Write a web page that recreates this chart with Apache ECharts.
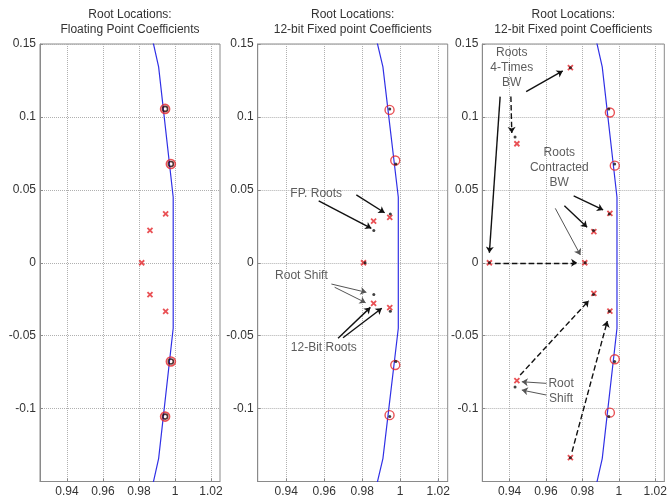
<!DOCTYPE html>
<html><head><meta charset="utf-8">
<script src="https://cdn.jsdelivr.net/npm/echarts@6/dist/echarts.min.js"></script>
<style>html,body{margin:0;padding:0;background:#fff}#c{width:672px;height:500px}</style>
</head><body><div id="c"></div>
<script>
// ---- tick labels ----
const xTicks = [0.94, 0.96, 0.98, 1, 1.02];
const titles = [
  'Root Locations:\nFloating Point Coefficients',
  'Root Locations:\n12-bit Fixed point Coefficients',
  'Root Locations:\n12-bit Fixed point Coefficients'
];
// ---- unit circle vertices (as drawn) ----
const circleX = [0.9749, 0.9909, 0.9990, 0.9990, 0.9909, 0.9749];
const circleY = [-0.2226, -0.1343, -0.0449, 0.0449, 0.1343, 0.2226];
// ---- floating point roots ----
const fpZeroX = [0.9945, 0.9977, 0.9977, 0.9945];
const fpZeroY = [0.1055, 0.0677, -0.0677, -0.1055];
const fpPoleX = [0.9948, 0.9861, 0.9815, 0.9861, 0.9948];
const fpPoleY = [0.0335, 0.0222, 0, -0.0218, -0.0333];
// ---- 12-bit fixed point roots (panel 2) ----
const fxZeroX = [0.9944, 0.9974, 0.9974, 0.9944];
const fxZeroY = [0.1048, 0.0701, -0.0701, -0.1045];
const fxPoleX = [0.9945, 0.9860, 0.9807, 0.9860, 0.9945];
const fxPoleY = [0.0311, 0.0286, 0, -0.0278, -0.0308];
// ---- panel 3 roots ----
const p3ZeroX = [0.9951, 0.9978, 0.9978, 0.9951];
const p3ZeroY = [0.1030, 0.0666, -0.0662, -0.1028];
const p3PoleX = [0.9734, 0.9440, 0.9289, 0.9440, 0.9734, 0.9813, 0.9863, 0.9951, 0.9863, 0.9951];
const p3PoleY = [0.1338, 0.0816, 0, -0.0809, -0.1337, 0, 0.0213, 0.0339, -0.0210, -0.0331];
const p3DotX = [0.9430, 0.9430, 0.9734, 0.9734, 0.9289];
const p3DotY = [0.0862, -0.0852, 0.1338, -0.1337, 0];
// ---- annotations ----
const p2Texts = [['FP. Roots', 0.9558, 0.0472], ['Root Shift', 0.9480, -0.0091], ['12-Bit Roots', 0.9598, -0.0585]];
const p2Black = [[[0.9769, 0.0465], [0.9918, 0.0343]], [[0.9571, 0.0424], [0.9848, 0.0236]],
                 [[0.9673, -0.0518], [0.9843, -0.0306]], [[0.9699, -0.0514], [0.9903, -0.0312]]];
const p2Gray = [[[0.9638, -0.0146], [0.9822, -0.0203]], [[0.9655, -0.0168], [0.9818, -0.0274]]];
const p3Texts = [['Roots\n4-Times\nBW', 0.9412, 0.1340], ['Roots\nContracted\nBW', 0.9673, 0.0652], ['Root\nShift', 0.9683, -0.0884]];
const p3Black = [[[0.9491, 0.1173], [0.9692, 0.1315]], [[0.9348, 0.1139], [0.9289, 0.0069]],
                 [[0.9752, 0.0458], [0.9914, 0.0362]], [[0.9701, 0.0391], [0.9826, 0.0243]]];
const p3Gray = [[[0.9651, 0.0373], [0.9789, 0.0053]], [[0.9602, -0.0827], [0.9467, -0.0816]],
                [[0.9602, -0.0907], [0.9467, -0.0873]]];
const p3Dashed = [[[0.9407, 0.1140], [0.9412, 0.0890]], [[0.9320, 0], [0.9771, 0]],
                  [[0.9458, -0.0770], [0.9835, -0.0260]], [[0.9743, -0.1296], [0.9937, -0.0400]]];

const zip = (a, b) => a.map((v, i) => [v, b[i]]);
const FONT = 'Arial, "Liberation Sans", sans-serif';
const RED = '#e3262b';
const TXT = '#333';

const panels = [{left: 40, width: 180}, {left: 257.7, width: 190}, {left: 482.3, width: 182}];

const grid = panels.map(p => ({left: p.left, width: p.width, top: 44, height: 437.5,
  show: true, borderColor: '#8a8a8a', borderWidth: 1, backgroundColor: '#fff'}));
const xAxis = panels.map((p, i) => ({
  type: 'value', gridIndex: i, min: 0.925, max: 1.025,
  axisLine: {show: true, onZero: false, lineStyle: {color: '#8a8a8a'}},
  axisTick: {show: true, inside: true, length: 3, customValues: xTicks, lineStyle: {color: '#8a8a8a'}},
  axisLabel: {customValues: xTicks, fontSize: 12, color: TXT, margin: 4, fontFamily: FONT},
  splitLine: {show: true, lineStyle: {type: 'dotted', color: '#b0b0b0', width: 1}}
}));
const yAxis = panels.map((p, i) => ({
  type: 'value', gridIndex: i, min: -0.15, max: 0.15, interval: 0.05,
  axisLine: {show: true, onZero: false, lineStyle: {color: '#8a8a8a'}},
  axisTick: {show: true, inside: true, length: 3, lineStyle: {color: '#8a8a8a'}},
  axisLabel: {showMinLabel: false, fontSize: 12, color: TXT, margin: 4, fontFamily: FONT},
  splitLine: {show: true, lineStyle: {type: 'dotted', color: '#b0b0b0', width: 1}}
}));

const XSYM = 'path://M0,0L10,10M10,0L0,10';
function circleLine(i) {
  return {type: 'line', xAxisIndex: i, yAxisIndex: i, data: zip(circleX, circleY), showSymbol: false,
    clip: true, lineStyle: {color: '#3030e6', width: 1.2}, z: 2};
}
function xs(i, X, Y) {
  return {type: 'scatter', xAxisIndex: i, yAxisIndex: i, data: zip(X, Y), symbol: XSYM, symbolSize: 5,
    itemStyle: {color: 'rgba(0,0,0,0)', borderColor: RED, borderWidth: 1.8}, z: 4};
}
function os(i, X, Y, size, color, bw) {
  return {type: 'scatter', xAxisIndex: i, yAxisIndex: i, data: zip(X, Y), symbol: 'circle', symbolSize: size,
    itemStyle: {color: 'rgba(0,0,0,0)', borderColor: color, borderWidth: bw}, z: 4};
}
function dots(i, X, Y) {
  return {type: 'scatter', xAxisIndex: i, yAxisIndex: i, data: zip(X, Y), symbol: 'circle', symbolSize: 3,
    itemStyle: {color: '#111'}, z: 6};
}
function texts(i, arr) {
  return {type: 'scatter', xAxisIndex: i, yAxisIndex: i, symbolSize: 1, itemStyle: {color: 'rgba(0,0,0,0)'},
    data: arr.map(t => ({name: t[0], value: [t[1], t[2]]})),
    label: {show: true, formatter: '{b}', position: 'inside', align: 'center', verticalAlign: 'middle',
      fontSize: 12, color: TXT, fontFamily: FONT, lineHeight: 15}, z: 7};
}
function arrows(i, arr, color, type, width) {
  return {type: 'lines', coordinateSystem: 'cartesian2d', xAxisIndex: i, yAxisIndex: i,
    data: arr.map(c => ({coords: c})), symbol: ['none', 'arrow'], symbolSize: 6,
    lineStyle: {color: color, type: type, width: width, opacity: 1, curveness: 0}, z: 5};
}

const series = [
  circleLine(0), circleLine(1), circleLine(2),
  // panel 1
  os(0, fpZeroX, fpZeroY, 9, RED, 1.6), os(0, fpZeroX, fpZeroY, 5, '#2a0000', 1.6), xs(0, fpPoleX, fpPoleY),
  // panel 2
  os(1, fxZeroX, fxZeroY, 9, RED, 1.4), xs(1, fxPoleX, fxPoleY), dots(1, fpPoleX, fpPoleY), dots(1, fpZeroX, fpZeroY),
  texts(1, p2Texts), arrows(1, p2Black, '#111', 'solid', 1.4), arrows(1, p2Gray, '#555', 'solid', 1),
  // panel 3
  os(2, p3ZeroX, p3ZeroY, 9, RED, 1.4), xs(2, p3PoleX, p3PoleY), dots(2, p3DotX, p3DotY), dots(2, fpPoleX, fpPoleY),
  dots(2, fpZeroX, fpZeroY),
  texts(2, p3Texts), arrows(2, p3Black, '#111', 'solid', 1.4), arrows(2, p3Gray, '#555', 'solid', 1),
  arrows(2, p3Dashed, '#111', 'dashed', 1.4)
];

const title = panels.map((p, i) => ({
  text: titles[i], left: p.left + p.width / 2, top: 7, textAlign: 'center', padding: 0,
  textStyle: {fontSize: 12, fontWeight: 'normal', color: TXT, lineHeight: 15, fontFamily: FONT}
}));

const chart = echarts.init(document.getElementById('c'), null, {renderer: 'canvas'});
chart.setOption({animation: false, backgroundColor: '#fff', title, grid, xAxis, yAxis, series});
</script></body></html>
